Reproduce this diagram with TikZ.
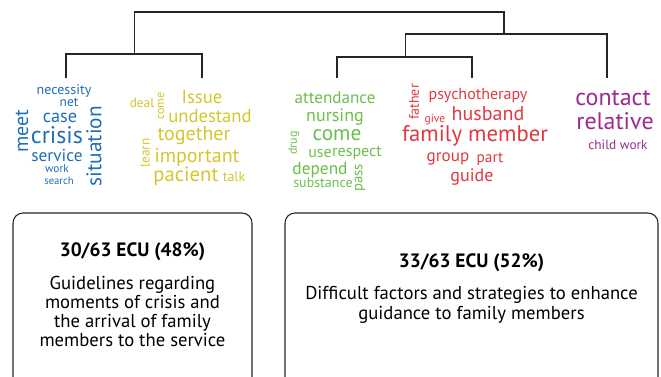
\documentclass[tikz,border=0pt]{standalone}
\usepackage{fontspec}
\setmainfont{PT Sans}
\usetikzlibrary{positioning}

\definecolor{wblue}{RGB}{32,110,182}
\definecolor{wyellow}{RGB}{212,198,44}
\definecolor{wgreen}{RGB}{108,190,76}
\definecolor{wred}{RGB}{226,56,64}
\definecolor{wpurple}{RGB}{156,42,143}

\newcommand{\fsz}[1]{\fontsize{#1}{#1}\selectfont}

\tikzset{
  word/.style={inner sep=0pt, anchor=center},
  up/.style={word, rotate=90},
  tree/.style={line width=1.1pt, draw=black!85},
  panel/.style={draw=black!85, line width=0.8pt, rounded corners=7.5pt},
}

\begin{document}
\begin{tikzpicture}[x=0.75pt, y=-0.75pt]
    \useasboundingbox (0,0) rectangle (661,376);

    % dendrogram
    \coordinate (leafA) at (66,78);
    \coordinate (leafB) at (202,78);
    \coordinate (leafC) at (337,78);
    \coordinate (leafD) at (472,78);
    \coordinate (leafE) at (607,78);
    \coordinate (jAB) at (134.5,54);
    \coordinate (jCD) at (405.5,57);
    \coordinate (jCDE) at (504,34);
    \coordinate (root) at (504,12);
    \draw[tree] (leafA) |- (jAB) -| (leafB);
    \draw[tree] (leafC) |- (jCD) -| (leafD);
    \draw[tree] (jCD) |- (jCDE) -| (leafE);
    \draw[tree] (jAB) |- (root) -- (jCDE);

    % blue words
    \begin{scope}[every node/.append style={text=wblue}]
    \node[word] (necessity) at (64,91) {\fsz{10.5}necessity};
    \node[word] (net) at (69,102) {\fsz{10}net};
    \node[word] (case) at (60,118) {\fsz{13.7}case};
    \node[word] (crisis) at (57,135) {\fsz{18}crisis};
    \node[word] (service) at (57,155) {\fsz{13}service};
    \node[word] (work) at (57,169) {\fsz{8.5}work};
    \node[word] (search) at (59,181) {\fsz{8}search};
    \node[up] (meet) at (22,131) {\fsz{15}meet};
    \node[up] (situation) at (94,146) {\fsz{16}situation};
    \end{scope}

    % yellow words
    \begin{scope}[every node/.append style={text=wyellow}]
    \node[word] (deal) at (142,103) {\fsz{10}deal};
    \node[up] (comeY) at (161,106) {\fsz{9}come};
    \node[word] (issue) at (202,97) {\fsz{14}Issue};
    \node[word] (undestand) at (210,116) {\fsz{14}undestand};
    \node[word] (together) at (194,136) {\fsz{15}together};
    \node[word] (important) at (197,157) {\fsz{15}important};
    \node[up] (learn) at (145,153) {\fsz{10}learn};
    \node[word] (pacient) at (186,176) {\fsz{15.5}pacient};
    \node[word] (talk) at (234,177) {\fsz{10.5}talk};
    \end{scope}

    % green words
    \begin{scope}[every node/.append style={text=wgreen}]
    \node[word] (attendance) at (335,98) {\fsz{12.8}attendance};
    \node[word] (nursing) at (335,117) {\fsz{13.5}nursing};
    \node[word] (comeG) at (337,135) {\fsz{16}come};
    \node[up] (drug) at (294,143) {\fsz{9}drug};
    \node[word] (use) at (320,153) {\fsz{12}use};
    \node[word] (respect) at (357,153) {\fsz{12}respect};
    \node[word] (depend) at (320,170) {\fsz{13}depend};
    \node[word] (substance) at (323,183) {\fsz{10.5}substance};
    \node[up] (pass) at (360,178) {\fsz{11}pass};
    \end{scope}

    % red words
    \begin{scope}[every node/.append style={text=wred}]
    \node[up] (father) at (414,102) {\fsz{10.5}father};
    \node[word] (psychotherapy) at (478,96) {\fsz{12}psychotherapy};
    \node[word] (give) at (435,120) {\fsz{8.7}give};
    \node[word] (husband) at (488,114) {\fsz{15}husband};
    \node[word] (familymember) at (475,136) {\fsz{17}family member};
    \node[word] (group) at (448,159) {\fsz{12.8}group};
    \node[word] (part) at (490,159) {\fsz{11.5}part};
    \node[word] (guide) at (472,177) {\fsz{13.5}guide};
    \end{scope}

    % purple words
    \begin{scope}[every node/.append style={text=wpurple}]
    \node[word] (contact) at (613,98) {\fsz{18}contact};
    \node[word] (relative) at (615,121) {\fsz{18}relative};
    \node[word] (childwork) at (618,145) {\fsz{10}child work};
    \end{scope}

    % cluster boxes
    \node[panel, minimum width=179.25pt, minimum height=135pt] (boxL) at (132.5,303) {};
    \node[panel, minimum width=279.75pt, minimum height=135pt] (boxR) at (471.5,303) {};
    \node[word] (headL) at (132.5,252) {\fsz{14.5}\bfseries 30/63 ECU (48\%)};
    \node[word, align=center, font=\fontsize{14}{14.3}\selectfont] (textL) at (132.5,311.5)
        {Guidelines regarding\\moments of crisis and\\the arrival of family\\members to the service};
    \node[word] (headR) at (471.5,263) {\fsz{14.5}\bfseries 33/63 ECU (52\%)};
    \node[word, align=center, font=\fontsize{14}{15}\selectfont] (textR) at (471.5,305)
        {Difficult factors and strategies to enhance\\guidance to family members};
\end{tikzpicture}
\end{document}
